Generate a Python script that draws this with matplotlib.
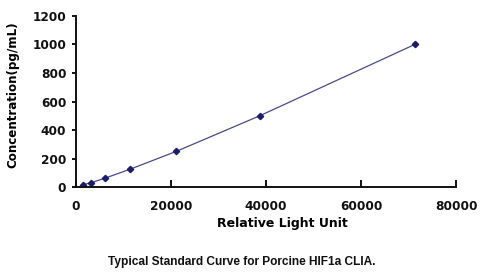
import matplotlib
matplotlib.use("Agg")
import matplotlib.pyplot as plt

rlu = [1430, 3260, 6150, 11400, 21100, 38700, 71300]
conc = [15.6, 31.25, 62.5, 125, 250, 500, 1000]
xticks = [0, 20000, 40000, 60000, 80000]
yticks = [0, 200, 400, 600, 800, 1000, 1200]

fig = plt.figure(figsize=(5.0, 2.79), dpi=100)
ax = fig.add_axes([0.152, 0.3297, 0.76, 0.613])

navy = "#1c1c6e"
ax.plot(rlu, conc, color="#4a4a8c", lw=0.9, marker="D", ms=3.2,
        mfc=navy, mec=navy)

ax.set_xlim(0, 80000)
ax.set_ylim(0, 1200)
ax.set_xticks(xticks)
ax.set_yticks(yticks)
ax.set_xticklabels([str(v) for v in xticks])
ax.set_yticklabels([str(v) for v in yticks])

for s in ["top", "right"]:
    ax.spines[s].set_visible(False)
for s in ["left", "bottom"]:
    ax.spines[s].set_linewidth(1.4)
    ax.spines[s].set_color("#111111")

ax.tick_params(axis="x", direction="in", length=5, width=1.4, pad=9,
               labelsize=8.7, colors="#111111")
ax.tick_params(axis="y", direction="out", length=3, width=1.4, pad=4,
               labelsize=8.7, colors="#111111")
for lab in ax.get_xticklabels() + ax.get_yticklabels():
    lab.set_fontweight("bold")

ax.set_xlabel("Relative Light Unit", fontsize=9.0, fontweight="bold")
ax.xaxis.set_label_coords(0.542, -0.175)
ax.set_ylabel("Concentration(pg/mL)", fontsize=8.6, fontweight="bold")
ax.yaxis.set_label_coords(-0.148, 0.54)

fig.text(0.484, 1 - 262 / 279, "Typical Standard Curve for Porcine HIF1a CLIA.",
         ha="center", va="center", fontsize=8.6, fontweight="bold",
         family="Liberation Sans", color="#111111")

fig.savefig("out.png", dpi=100)
